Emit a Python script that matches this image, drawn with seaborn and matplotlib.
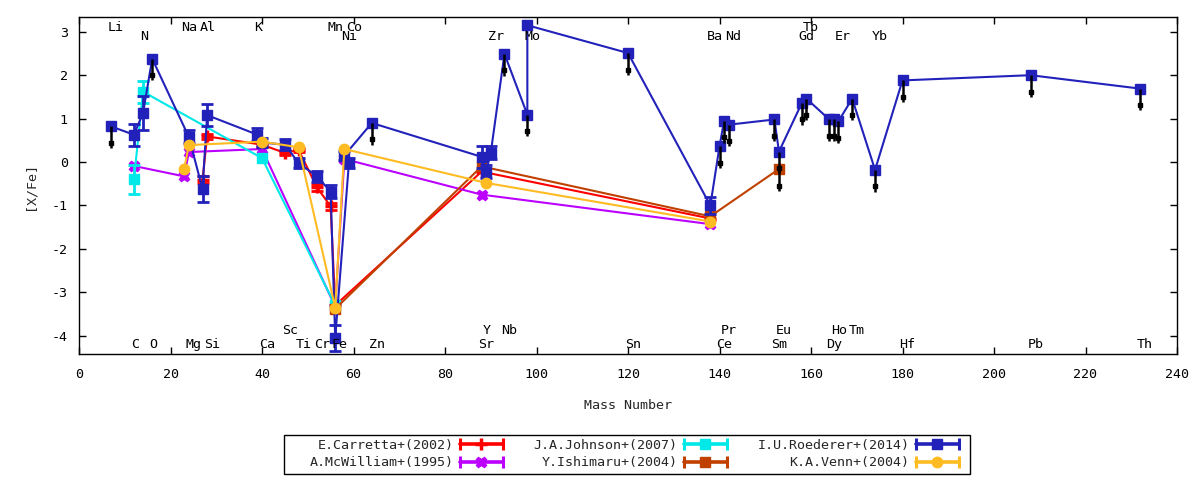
import numpy as np
import pandas as pd
import matplotlib
matplotlib.use("Agg")
import matplotlib.pyplot as plt
import seaborn as sns
from matplotlib.lines import Line2D
from matplotlib.patches import Rectangle
from matplotlib.legend_handler import HandlerLine2D, HandlerTuple

# --- element labels (mass number of the most abundant isotope) ---
top1_names = ["Li", "Na", "Al", "K", "Mn", "Co", "Tb"]
top1_mass = [7, 23, 27, 39, 55, 59, 159]
top2_names = ["N", "Ni", "Zr", "Mo", "Ba", "Nd", "Gd", "Er", "Yb"]
top2_mass = [14, 58, 90, 98, 138, 142, 158, 166, 174]
bot1_names = ["Sc", "Y", "Nb", "Pr", "Eu", "Ho", "Tm"]
bot1_mass = [45, 89, 93, 141, 153, 165, 169]
bot2_names = ["C", "O", "Mg", "Si", "Ca", "Ti", "Cr", "Fe", "Zn", "Sr", "Sn",
              "Ce", "Sm", "Dy", "Hf", "Pb", "Th"]
bot2_mass = [12, 16, 24, 28, 40, 48, 52, 56, 64, 88, 120, 140, 152, 164, 180, 208, 232]

# --- abundances [X/Fe] (Fe itself is [Fe/H]) ---
carretta_mass = [27, 28, 40, 45, 48, 52, 55, 56, 88, 138]
carretta_val = [-0.41, 0.59, 0.40, 0.21, 0.28, -0.58, -1.02, -3.30, -0.22, -1.30]
carretta_err = [0.08, 0.05, 0.05, 0.05, 0.05, 0.08, 0.08, 0.0, 0.0, 0.0]

mcwilliam_mass = [12, 23, 24, 40, 56, 58, 88, 138]
mcwilliam_val = [-0.09, -0.33, 0.23, 0.30, -3.33, 0.07, -0.75, -1.43]

johnson_mass = [12, 14, 40, 56]
johnson_val = [-0.40, 1.62, 0.09, -3.30]
johnson_err = [0.33, 0.25, 0.0, 0.0]

ishimaru_mass = [56, 88, 138, 153]
ishimaru_val = [-3.38, -0.10, -1.25, -0.16]
ishimaru_lim = [0, 0, 0, 1]

roederer_mass = [7, 12, 14, 16, 24, 27, 28, 39, 40, 45, 48, 52, 55, 56, 59, 58, 64,
                 88, 89, 90, 93, 98, 98, 120, 138, 140, 141, 142, 152, 153,
                 158, 159, 164, 165, 166, 169, 174, 180, 208, 232]
roederer_val = [0.82, 0.63, 1.13, 2.38, 0.58, -0.62, 1.08, 0.63, 0.45, 0.40, -0.02,
                -0.33, -0.68, -4.05, -0.02, 0.15, 0.90,
                0.12, -0.22, 0.21, 2.49, 1.09, 3.15, 2.51, -1.00, 0.36, 0.95, 0.86,
                0.98, 0.24, 1.36, 1.46, 0.98, 0.99, 0.94, 1.46, -0.18, 1.88, 2.00, 1.69]
roederer_err = [0.0, 0.25, 0.40, 0.0, 0.15, 0.30, 0.25, 0.15, 0.10, 0.12, 0.12,
                0.12, 0.15, 0.30, 0.12, 0.10, 0.0,
                0.25, 0.15, 0.15, 0.0, 0.0, 0.0, 0.0, 0.20, 0.0, 0.0, 0.0,
                0.0, 0.0, 0.0, 0.0, 0.0, 0.0, 0.0, 0.0, 0.0, 0.0, 0.0, 0.0]
roederer_lim = [1, 0, 0, 1, 0, 0, 0, 0, 0, 0, 0, 0, 0, 0, 0, 0, 1,
                0, 0, 0, 1, 1, 0, 1, 0, 1, 1, 1, 1, 1, 1, 1, 1, 1, 1, 1, 1, 1, 1, 1]

venn_mass = [23, 24, 40, 48, 56, 58, 89, 138]
venn_val = [-0.16, 0.39, 0.47, 0.34, -3.35, 0.30, -0.48, -1.37]

series = [
    ("E.Carretta+(2002)", carretta_mass, carretta_val, carretta_err, None,
     "#ff0000", "+", 9, 2.5),
    ("A.McWilliam+(1995)", mcwilliam_mass, mcwilliam_val, None, None,
     "#bb00ff", "X", 7.5, 1.0),
    ("J.A.Johnson+(2007)", johnson_mass, johnson_val, johnson_err, None,
     "#00e8e8", "s", 6.5, 1.0),
    ("Y.Ishimaru+(2004)", ishimaru_mass, ishimaru_val, None, ishimaru_lim,
     "#c04000", "s", 7, 1.0),
    ("I.U.Roederer+(2014)", roederer_mass, roederer_val, roederer_err, roederer_lim,
     "#2222bb", "s", 7.5, 1.0),
    ("K.A.Venn+(2004)", venn_mass, venn_val, None, None,
     "#ffbb22", "o", 7.5, 1.0),
]

sns.set_theme(style="white")
plt.rcParams["font.family"] = ["DejaVu Sans Mono"]
plt.rcParams["axes.unicode_minus"] = False
FS = 9.6

fig = plt.figure(figsize=(12, 4.8), dpi=100)
ax = fig.add_axes([79 / 1200, 1 - 354 / 480, (1177 - 79) / 1200, (354 - 17) / 480])

handles = []
handler_map = {}
for i, (name, m, v, err, lim, col, mk, ms, mew) in enumerate(series):
    df = pd.DataFrame({"mass": m, "val": v})
    z = 3 + i
    sns.lineplot(data=df, x="mass", y="val", sort=False, estimator=None,
                 color=col, lw=1.5, marker=mk, markersize=ms,
                 markeredgecolor=col, markerfacecolor=col, markeredgewidth=mew,
                 legend=False, ax=ax, zorder=z)
    if err is not None:
        e = np.array(err)
        sel = e > 0
        ax.errorbar(np.array(m)[sel], np.array(v)[sel], yerr=e[sel], fmt="none",
                    ecolor=col, elinewidth=2, capsize=4.5, capthick=2, zorder=z)
    if lim is not None:
        sel = np.array(lim) == 1
        lx = np.array(m)[sel]
        ly = np.array(v)[sel]
        ax.vlines(lx, ly - 0.5, ly, colors="black", lw=1.8, zorder=10)
        ax.plot(lx, ly - 0.38, ls="none", marker="s", ms=3.5, color="black", zorder=10)

    # legend sample: horizontal bar with end caps and the series marker
    bar = Line2D([], [], color=col, lw=2.6, marker="|", ms=8, mew=2.2)
    pt = Line2D([], [], color=col, ls="none", marker=mk, ms=ms, mec=col, mfc=col, mew=mew)
    handler_map[bar] = HandlerLine2D(numpoints=2, marker_pad=0)
    handler_map[pt] = HandlerLine2D(numpoints=1)
    handles.append((bar, pt))

labels = [s[0] for s in series]
handler_map[tuple] = HandlerTuple(ndivide=1, pad=0)

# element names along top and bottom
for names, masses, yy in [(top1_names, top1_mass, 3.10), (top2_names, top2_mass, 2.88),
                          (bot1_names, bot1_mass, -3.88), (bot2_names, bot2_mass, -4.20)]:
    for n, mm in zip(names, masses):
        ax.text(mm - 0.7, yy, n, ha="left", va="center", fontsize=FS, color="black", zorder=12)

ax.set_xlim(0, 240)
ax.set_ylim(-4.42, 3.34)
ax.set_xticks(np.arange(0, 241, 20))
ax.set_yticks(np.arange(-4, 4, 1))
for sp in ax.spines.values():
    sp.set_color("black")
    sp.set_linewidth(1.0)
ax.tick_params(direction="in", length=5, width=1, top=True, right=True,
               bottom=True, left=True, labelsize=FS, colors="black")
ax.tick_params(axis="x", pad=10)
ax.tick_params(axis="y", pad=8)
ax.set_xlabel("Mass Number", fontsize=FS, labelpad=13)
ax.set_ylabel("[X/Fe]", fontsize=FS, labelpad=11)
ax.grid(False)

leg = fig.legend(handles, labels, handler_map=handler_map, ncol=3,
                 loc="center", bbox_to_anchor=(634 / 1200, 26 / 480),
                 frameon=False, markerfirst=False, fontsize=FS,
                 handlelength=3.2, handletextpad=0.5, columnspacing=2.3,
                 labelspacing=0.33, borderpad=0.2)
fig.add_artist(Rectangle((284 / 1200, 1 - 474 / 480), (970 - 284) / 1200, 39 / 480,
                         transform=fig.transFigure, fill=False, ec="black", lw=1.0))

fig.savefig("out.png", dpi=100)
